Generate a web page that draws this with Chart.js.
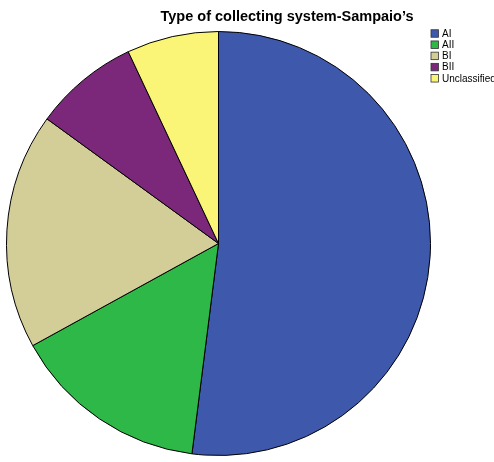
<!DOCTYPE html>
<html>
<head>
<meta charset="utf-8">
<script src="https://cdn.jsdelivr.net/npm/chart.js@4/dist/chart.umd.min.js"></script>
<style>
html,body{margin:0;padding:0;background:#fff;}
#wrap{width:494px;height:462px;position:relative;}
</style>
</head>
<body>
<div id="wrap"><canvas id="c" width="494" height="462"></canvas></div>
<script>
const chartTitle = "Type of collecting system-Sampaio\u2019s";
const categories = ["AI", "AII", "BI", "BII", "Unclassified"];
const values = [52, 15, 18, 8, 7];
const colors = ["#3E58AC", "#2EB848", "#D3CE97", "#7B287B", "#FBF577"];

const overlay = {
  id: 'overlay',
  afterDraw(chart) {
    const ctx = chart.ctx;
    ctx.save();
    ctx.fillStyle = '#000';
    ctx.font = 'bold 14.5px "Liberation Sans", Arial, sans-serif';
    ctx.textAlign = 'center';
    ctx.textBaseline = 'alphabetic';
    ctx.fillText(chartTitle, 287, 20.5);
    ctx.font = '10px "Liberation Sans", Arial, sans-serif';
    ctx.textAlign = 'left';
    ctx.textBaseline = 'middle';
    chart.data.labels.forEach((lab, i) => {
      const y = 33.5 + i * 11.2;
      ctx.fillStyle = chart.data.datasets[0].backgroundColor[i];
      ctx.fillRect(431, y - 3.75, 7.5, 7.5);
      ctx.strokeStyle = '#333';
      ctx.lineWidth = 0.8;
      ctx.strokeRect(431, y - 3.75, 7.5, 7.5);
      ctx.fillStyle = '#000';
      ctx.fillText(lab, 442, y + 0.5);
    });
    ctx.restore();
  }
};

new Chart(document.getElementById('c'), {
  type: 'pie',
  data: {
    labels: categories,
    datasets: [{
      data: values,
      backgroundColor: colors,
      borderColor: '#000',
      borderWidth: 1
    }]
  },
  options: {
    responsive: false,
    animation: false,
    layout: { padding: { left: 6, right: 63, top: 31, bottom: 6 } },
    plugins: {
      legend: { display: false },
      title: { display: false },
      tooltip: { enabled: false }
    }
  },
  plugins: [overlay]
});
</script>
</body>
</html>
